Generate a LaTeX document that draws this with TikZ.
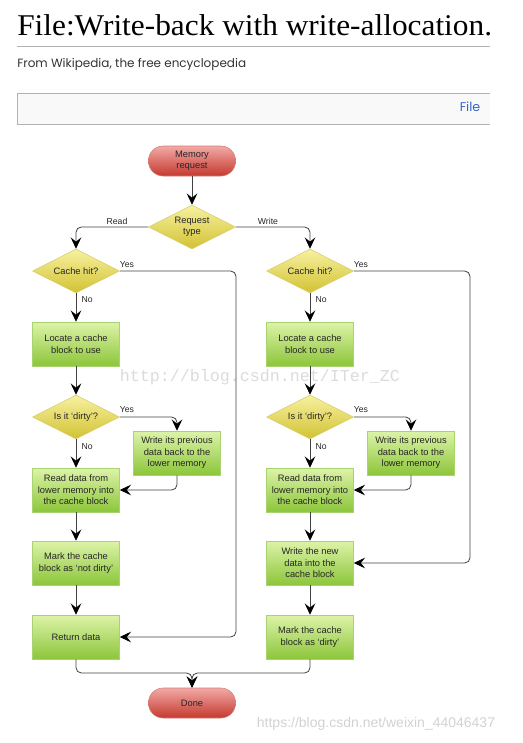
\documentclass[tikz,border=0pt]{standalone}
\usepackage{fontspec}
\setmainfont{Liberation Serif}
\setsansfont{Liberation Sans}
\setmonofont{Liberation Mono}
\newfontfamily\pagefont{Poppins}
\newfontfamily\titlefont[FakeStretch=1.04]{Liberation Serif}
\usetikzlibrary{shapes.geometric, arrows.meta}

\definecolor{boxtop}{HTML}{DDF3A8}
\definecolor{boxbot}{HTML}{8CC63A}
\definecolor{boxedge}{HTML}{A9D36E}
\definecolor{testtop}{HTML}{F7F1A0}
\definecolor{testbot}{HTML}{D2C233}
\definecolor{testedge}{HTML}{D8CC6A}
\definecolor{termtop}{HTML}{F2A9A6}
\definecolor{termbot}{HTML}{C4392E}
\definecolor{termedge}{HTML}{D47C76}
\definecolor{linkblue}{HTML}{3366CC}

\begin{document}
\begin{tikzpicture}[x=0.75pt, y=-0.75pt,
    every node/.style={font=\sffamily\fontsize{7}{8.6}\selectfont, align=center, text=black!85},
    block/.style={rectangle, draw=boxedge, top color=boxtop, bottom color=boxbot, minimum width=65.25pt, minimum height=33pt, inner sep=1pt},
    test/.style={diamond, draw=testedge, top color=testtop, bottom color=testbot, minimum width=65.25pt, minimum height=33pt, inner sep=0pt, aspect=2},
    term/.style={rectangle, rounded corners=11pt, draw=termedge, top color=termtop, bottom color=termbot, minimum width=65.25pt, minimum height=22.5pt},
    flow/.style={draw=black!75, line width=0.6pt, rounded corners=4pt, -{Stealth[length=8.5pt, width=8pt, inset=3.2pt, color=black]}},
    lbl/.style={font=\sffamily\fontsize{6.5}{7}\selectfont}]
    \useasboundingbox (0,0) rectangle (522,743);

    % page header
    \begin{scope}
        \clip (0,0) rectangle (490,60);
        \node[anchor=base west, inner sep=0pt, font=\titlefont\fontsize{22.6}{25}\selectfont, text=black] (title) at (17,35) {File:Write-back with write-allocation.};
    \end{scope}
    \draw[gray!60] (17,46) -- (490,46);
    \node[anchor=west, inner sep=0pt, font=\pagefont\fontsize{9}{10}\selectfont, text=black!80] (sub) at (17,64) {From Wikipedia, the free encyclopedia};
    \fill[gray!5] (17,93) rectangle (490,124);
    \draw[gray!60] (490,93) -- (17,93) -- (17,124) -- (490,124);
    \node[font=\pagefont\fontsize{9.5}{10}\selectfont, text=linkblue] (tab) at (470,107) {File};

    % watermarks
    \node[font=\ttfamily\fontsize{12.5}{13}\selectfont, text=gray!28] (wm1) at (260,377) {http://blog.csdn.net/ITer\_ZC};
    \node[font=\sffamily\fontsize{10.5}{11}\selectfont, text=gray!35] (wm2) at (376,724) {https://blog.csdn.net/weixin\_44046437};

    % nodes
    \node[term] (req) at (192,161) {Memory\\request};
    \node[test] (type) at (192,227) {Request\\type};

    \node[test] (hitL) at (76,271) {Cache hit?};
    \node[block] (locL) at (76,344) {Locate a cache\\block to use};
    \node[test] (dirtyL) at (76,417) {Is it `dirty'?};
    \node[block] (wbL) at (177,453) {Write its previous\\data back to the\\lower memory};
    \node[block] (rdL) at (76,490) {Read data from\\lower memory into\\the cache block};
    \node[block] (cleanL) at (76,563) {Mark the cache\\block as `not dirty'};
    \node[block] (retL) at (76,637) {Return data};

    \node[test] (hitR) at (310,271) {Cache hit?};
    \node[block] (locR) at (310,344) {Locate a cache\\block to use};
    \node[test] (dirtyR) at (310,417) {Is it `dirty'?};
    \node[block] (wbR) at (411,453) {Write its previous\\data back to the\\lower memory};
    \node[block] (rdR) at (310,490) {Read data from\\lower memory into\\the cache block};
    \node[block] (newR) at (310,563) {Write the new\\data into the\\cache block};
    \node[block] (markR) at (310,637) {Mark the cache\\block as `dirty'};

    \node[term] (done) at (192,703) {Done};

    \coordinate (yesL) at (236,637);
    \coordinate (yesR) at (470,563);
    \coordinate (join) at (192,673);

    % connectors
    \draw[flow] (req) -- (type);
    \draw[flow] (type.west) -| (hitL.north);
    \draw[flow] (type.east) -| (hitR.north);
    \node[lbl] (read) at (117,221) {Read};
    \node[lbl] (write) at (268,221) {Write};

    \draw[flow] (hitL.east) -| (yesL) -- (retL.east);
    \draw[flow] (hitR.east) -| (yesR) -- (newR.east);
    \node[lbl] (yes1) at (127,265) {Yes};
    \node[lbl] (yes2) at (361,265) {Yes};

    \draw[flow] (hitL) -- (locL);
    \draw[flow] (hitR) -- (locR);
    \node[lbl, anchor=west] (no1) at (77,300) {No};
    \node[lbl, anchor=west] (no2) at (311,300) {No};

    \draw[flow] (locL) -- (dirtyL);
    \draw[flow] (locR) -- (dirtyR);
    \draw[flow] (dirtyL.east) -| (wbL.north);
    \draw[flow] (dirtyR.east) -| (wbR.north);
    \node[lbl] (yes3) at (127,410) {Yes};
    \node[lbl] (yes4) at (361,410) {Yes};

    \draw[flow] (dirtyL) -- (rdL);
    \draw[flow] (dirtyR) -- (rdR);
    \node[lbl, anchor=west] (no3) at (77,447) {No};
    \node[lbl, anchor=west] (no4) at (311,447) {No};

    \draw[flow] (wbL.south) |- (rdL.east);
    \draw[flow] (wbR.south) |- (rdR.east);

    \draw[flow] (rdL) -- (cleanL);
    \draw[flow] (cleanL) -- (retL);
    \draw[flow] (rdR) -- (newR);
    \draw[flow] (newR) -- (markR);

    \draw[flow] (retL.south) |- (join) -- (done.north);
    \draw[flow] (markR.south) |- (join) -- (done.north);
\end{tikzpicture}
\end{document}
